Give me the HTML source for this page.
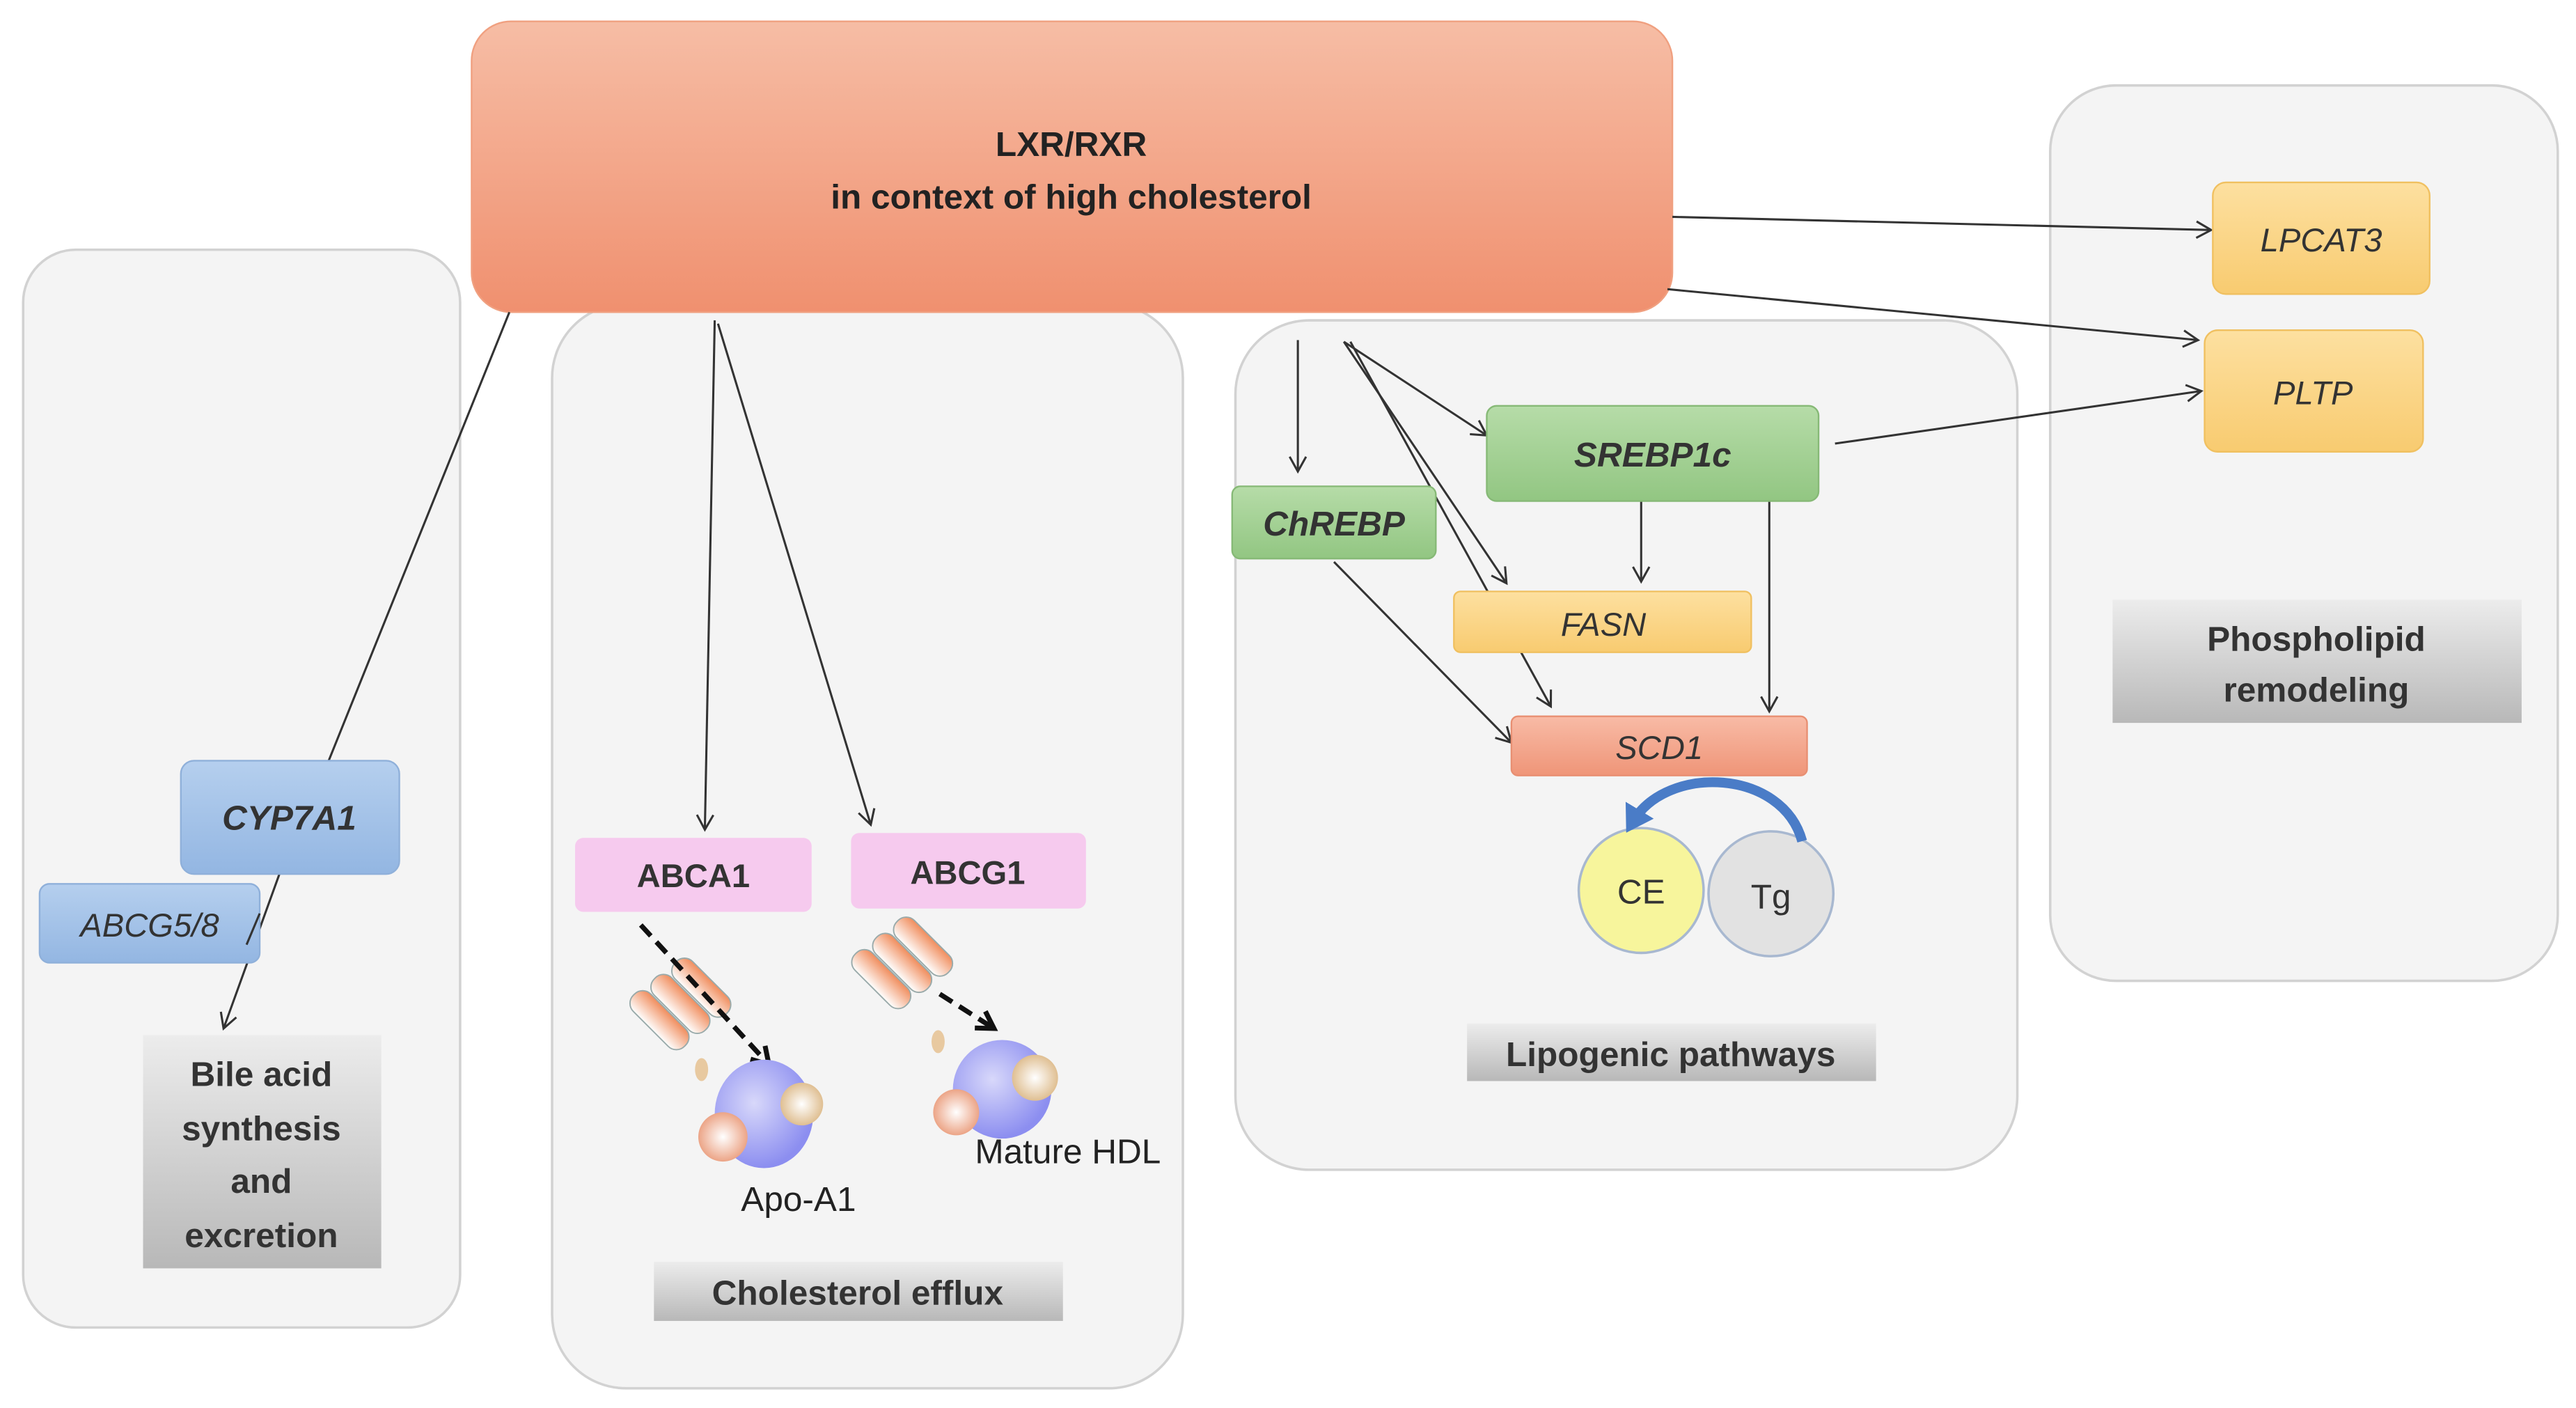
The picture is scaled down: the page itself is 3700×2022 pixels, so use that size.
<!DOCTYPE html>
<html><head><meta charset="utf-8"><style>
html,body{margin:0;padding:0;background:#fff;}
svg{display:block;}
text{font-family:"Liberation Sans",sans-serif;}
</style></head><body>
<svg width="3700" height="2022" viewBox="0 0 1568 857" xmlns="http://www.w3.org/2000/svg">
<defs>
<linearGradient id="lxr" x1="0" y1="0" x2="0" y2="1"><stop offset="0" stop-color="#f6bda5"/><stop offset="1" stop-color="#f0906f"/></linearGradient>
<linearGradient id="gray" x1="0" y1="0" x2="0" y2="1"><stop offset="0" stop-color="#ececec"/><stop offset="1" stop-color="#b8b8b8"/></linearGradient>
<linearGradient id="blue" x1="0" y1="0" x2="0" y2="1"><stop offset="0" stop-color="#b5cfee"/><stop offset="1" stop-color="#93b6e2"/></linearGradient>
<linearGradient id="green" x1="0" y1="0" x2="0" y2="1"><stop offset="0" stop-color="#b6dca8"/><stop offset="1" stop-color="#92c682"/></linearGradient>
<linearGradient id="orange" x1="0" y1="0" x2="0" y2="1"><stop offset="0" stop-color="#fde0a0"/><stop offset="1" stop-color="#f8cb70"/></linearGradient>
<linearGradient id="salmon" x1="0" y1="0" x2="0" y2="1"><stop offset="0" stop-color="#f8bba6"/><stop offset="1" stop-color="#ef9578"/></linearGradient>
<linearGradient id="cyl" x1="0" y1="0" x2="0" y2="1"><stop offset="0" stop-color="#f08c5c"/><stop offset="1" stop-color="#fff"/></linearGradient>
<radialGradient id="blob" cx="0.4" cy="0.4" r="0.6"><stop offset="0" stop-color="#d8d8fa"/><stop offset="1" stop-color="#8c8ef0"/></radialGradient>
<radialGradient id="bl2" cx="0.5" cy="0.5" r="0.6"><stop offset="0" stop-color="#fff"/><stop offset="1" stop-color="#e8926e"/></radialGradient>
<radialGradient id="bl3" cx="0.5" cy="0.5" r="0.6"><stop offset="0" stop-color="#fff"/><stop offset="1" stop-color="#d9b27c"/></radialGradient>
<marker id="ar" markerWidth="12" markerHeight="12" refX="10" refY="6" orient="auto" markerUnits="userSpaceOnUse"><path d="M1,1 L10,6 L1,11" fill="none" stroke="#333" stroke-width="1.3"/></marker>
<marker id="ard" markerWidth="16" markerHeight="16" refX="12" refY="8" orient="auto" markerUnits="userSpaceOnUse"><path d="M2,2 L12,8 L2,14" fill="none" stroke="#111" stroke-width="3"/></marker>
<marker id="arb" markerWidth="20" markerHeight="20" refX="8" refY="10" orient="auto" markerUnits="userSpaceOnUse"><path d="M0,0 L16,10 L0,20 Z" fill="#4a7cc7"/></marker>
</defs>
<rect width="1568" height="857" fill="#fff"/>
<rect x="14" y="152" width="266" height="656" rx="32" fill="#f4f4f4" stroke="#d2d2d2" stroke-width="1.5"/>
<rect x="336" y="185" width="384" height="660" rx="45" fill="#f4f4f4" stroke="#d2d2d2" stroke-width="1.5"/>
<rect x="752" y="195" width="476" height="517" rx="45" fill="#f4f4f4" stroke="#d2d2d2" stroke-width="1.5"/>
<rect x="1248" y="52" width="309" height="545" rx="40" fill="#f4f4f4" stroke="#d2d2d2" stroke-width="1.5"/>
<rect x="287" y="13" width="731" height="177" rx="24" fill="url(#lxr)" stroke="#f0a080" stroke-width="1"/>
<text x="652" y="95" font-size="21" font-weight="bold" text-anchor="middle" fill="#222">LXR/RXR</text>
<text x="652" y="127" font-size="21" font-weight="bold" text-anchor="middle" fill="#222">in context of high cholesterol</text>
<g stroke="#333" stroke-width="1.3" fill="none">
<line x1="310" y1="190" x2="200" y2="463"/>
<line x1="170" y1="532" x2="136" y2="626" marker-end="url(#ar)"/>
<line x1="435" y1="195" x2="429" y2="505" marker-end="url(#ar)"/>
<line x1="437" y1="197" x2="530" y2="502" marker-end="url(#ar)"/>
<line x1="790" y1="207" x2="790" y2="287" marker-end="url(#ar)"/>
<line x1="818" y1="208" x2="905" y2="265" marker-end="url(#ar)"/>
<line x1="818" y1="208" x2="917" y2="355" marker-end="url(#ar)"/>
<line x1="822" y1="208" x2="944" y2="430" marker-end="url(#ar)"/>
<line x1="812" y1="342" x2="920" y2="452" marker-end="url(#ar)"/>
<line x1="999" y1="305" x2="999" y2="354" marker-end="url(#ar)"/>
<line x1="1077" y1="305" x2="1077" y2="433" marker-end="url(#ar)"/>
<line x1="1018" y1="132" x2="1346" y2="140" marker-end="url(#ar)"/>
<line x1="1015" y1="176" x2="1338" y2="207" marker-end="url(#ar)"/>
<line x1="1117" y1="270" x2="1340" y2="238" marker-end="url(#ar)"/>
</g>
<rect x="110" y="463" width="133" height="69" rx="8" fill="url(#blue)" stroke="#8fb0da"/>
<text x="176" y="505" font-size="21" font-weight="bold" font-style="italic" text-anchor="middle" fill="#333">CYP7A1</text>
<rect x="24" y="538" width="134" height="48" rx="6" fill="url(#blue)" stroke="#8fb0da"/>
<text x="91" y="570" font-size="20" font-style="italic" text-anchor="middle" fill="#333">ABCG5/8</text>
<line x1="158" y1="556" x2="150" y2="575" stroke="#333" stroke-width="1.3"/>
<rect x="87" y="630" width="145" height="142" fill="url(#gray)"/>
<g font-size="21" font-weight="bold" text-anchor="middle" fill="#333">
<text x="159" y="661">Bile acid</text><text x="159" y="694">synthesis</text><text x="159" y="726">and</text><text x="159" y="759">excretion</text></g>
<rect x="350" y="510" width="144" height="45" rx="5" fill="#f6caee"/>
<text x="422" y="540" font-size="20" font-weight="bold" text-anchor="middle" fill="#333">ABCA1</text>
<rect x="518" y="507" width="143" height="46" rx="5" fill="#f6caee"/>
<text x="589" y="538" font-size="20" font-weight="bold" text-anchor="middle" fill="#333">ABCG1</text>
<g transform="translate(418,610) rotate(45)">
<rect x="-22" y="-20" width="44" height="15" rx="7" fill="url(#cyl)" stroke="#9aa" stroke-width="0.8"/>
<rect x="-24" y="-4" width="44" height="15" rx="7" fill="url(#cyl)" stroke="#9aa" stroke-width="0.8"/>
<rect x="-26" y="12" width="44" height="15" rx="7" fill="url(#cyl)" stroke="#9aa" stroke-width="0.8"/></g>
<g transform="translate(553,585) rotate(45)">
<rect x="-22" y="-20" width="44" height="15" rx="7" fill="url(#cyl)" stroke="#9aa" stroke-width="0.8"/>
<rect x="-24" y="-4" width="44" height="15" rx="7" fill="url(#cyl)" stroke="#9aa" stroke-width="0.8"/>
<rect x="-26" y="12" width="44" height="15" rx="7" fill="url(#cyl)" stroke="#9aa" stroke-width="0.8"/></g>
<line x1="390" y1="563" x2="468" y2="648" stroke="#111" stroke-width="3" stroke-dasharray="9,5" marker-end="url(#ard)"/>
<line x1="572" y1="605" x2="605" y2="626" stroke="#111" stroke-width="3" stroke-dasharray="9,5" marker-end="url(#ard)"/>
<ellipse cx="427" cy="651" rx="4" ry="7" fill="#e8c9a0"/>
<ellipse cx="571" cy="634" rx="4" ry="7" fill="#e8c9a0"/>
<ellipse cx="465" cy="678" rx="30" ry="33" fill="url(#blob)"/>
<circle cx="440" cy="692" r="15" fill="url(#bl2)"/>
<circle cx="488" cy="672" r="13" fill="url(#bl3)"/>
<ellipse cx="610" cy="663" rx="30" ry="30" fill="url(#blob)"/>
<circle cx="582" cy="677" r="14" fill="url(#bl2)"/>
<circle cx="630" cy="656" r="14" fill="url(#bl3)"/>
<text x="486" y="737" font-size="21" text-anchor="middle" fill="#222">Apo-A1</text>
<text x="650" y="708" font-size="21" text-anchor="middle" fill="#222">Mature HDL</text>
<rect x="398" y="768" width="249" height="36" fill="url(#gray)"/>
<text x="522" y="794" font-size="21" font-weight="bold" text-anchor="middle" fill="#333">Cholesterol efflux</text>
<rect x="750" y="296" width="124" height="44" rx="5" fill="url(#green)" stroke="#86b976"/>
<text x="812" y="326" font-size="21" font-weight="bold" font-style="italic" text-anchor="middle" fill="#333">ChREBP</text>
<rect x="905" y="247" width="202" height="58" rx="6" fill="url(#green)" stroke="#86b976"/>
<text x="1006" y="284" font-size="21" font-weight="bold" font-style="italic" text-anchor="middle" fill="#333">SREBP1c</text>
<rect x="885" y="360" width="181" height="37" rx="4" fill="url(#orange)" stroke="#f0c060"/>
<text x="976" y="387" font-size="20" font-style="italic" text-anchor="middle" fill="#333">FASN</text>
<rect x="920" y="436" width="180" height="36" rx="4" fill="url(#salmon)" stroke="#e88f72"/>
<text x="1010" y="462" font-size="20" font-style="italic" text-anchor="middle" fill="#333">SCD1</text>
<circle cx="1078" cy="544" r="38" fill="#e2e2e2" stroke="#a8b8d0" stroke-width="1.5"/>
<circle cx="999" cy="542" r="38" fill="#f7f59c" stroke="#a8b8d0" stroke-width="1.5"/>
<text x="999" y="550" font-size="21" text-anchor="middle" fill="#333">CE</text>
<text x="1078" y="553" font-size="21" text-anchor="middle" fill="#333">Tg</text>
<path d="M1097,512 C1085,468 1015,465 994,500" fill="none" stroke="#4a7cc7" stroke-width="6" marker-end="url(#arb)"/>
<rect x="893" y="623" width="249" height="35" fill="url(#gray)"/>
<text x="1017" y="649" font-size="21" font-weight="bold" text-anchor="middle" fill="#333">Lipogenic pathways</text>
<rect x="1347" y="111" width="132" height="68" rx="8" fill="url(#orange)" stroke="#f0c060"/>
<text x="1413" y="153" font-size="20" font-style="italic" text-anchor="middle" fill="#333">LPCAT3</text>
<rect x="1342" y="201" width="133" height="74" rx="8" fill="url(#orange)" stroke="#f0c060"/>
<text x="1408" y="246" font-size="20" font-style="italic" text-anchor="middle" fill="#333">PLTP</text>
<rect x="1286" y="365" width="249" height="75" fill="url(#gray)"/>
<text x="1410" y="396" font-size="21" font-weight="bold" text-anchor="middle" fill="#333">Phospholipid</text>
<text x="1410" y="427" font-size="21" font-weight="bold" text-anchor="middle" fill="#333">remodeling</text>
</svg>
</body></html>
